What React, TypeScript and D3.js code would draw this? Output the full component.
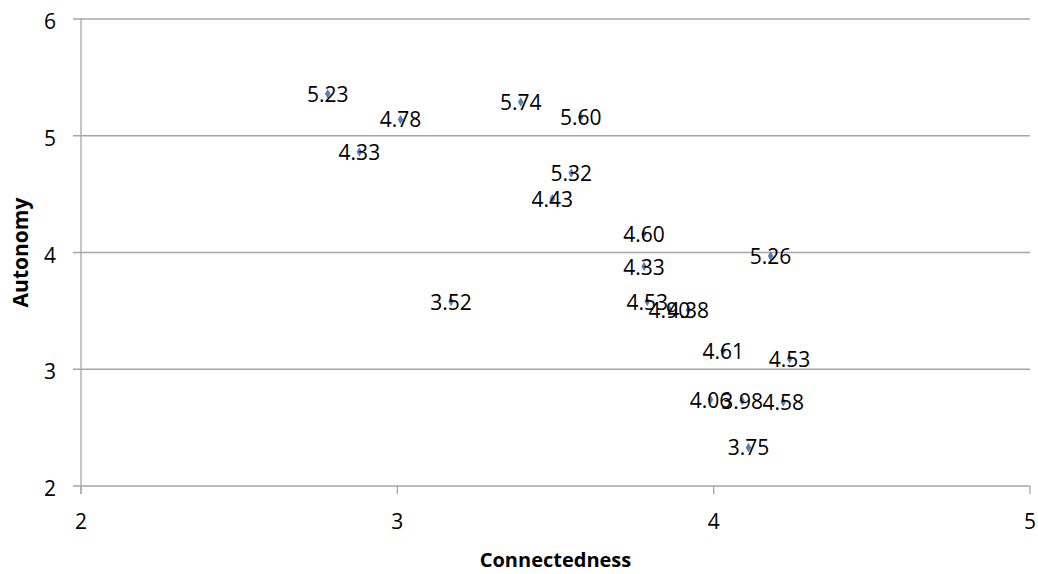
import React from "react";
import * as d3 from "d3";

const connectedness = [2.78, 3.01, 3.39, 3.58, 2.88, 3.55, 3.49, 3.78, 4.18, 3.78, 3.79, 3.86, 3.92, 3.17, 4.03, 4.24, 3.99, 4.09, 4.22, 4.11];
const autonomy = [5.36, 5.14, 5.29, 5.16, 4.86, 4.68, 4.46, 4.16, 3.97, 3.88, 3.58, 3.51, 3.51, 3.58, 3.16, 3.09, 2.74, 2.73, 2.72, 2.33];
const pointLabels = ["5.23", "4.78", "5.74", "5.60", "4.33", "5.32", "4.43", "4.60", "5.26", "4.33", "4.53", "4.90", "4.38", "3.52", "4.61", "4.53", "4.06", "3.98", "4.58", "3.75"];
const xTicks = [2, 3, 4, 5];
const yTicks = [2, 3, 4, 5, 6];

const W = 1038;
const H = 574;
const left = 81;
const right = 1030;
const top = 19;
const bottom = 486;
const axisColor = "#a6a6a6";
const font = "'Open Sans', 'Liberation Sans', Arial, sans-serif";

export default function App() {
  const x = d3.scaleLinear().domain([2, 5]).range([left, right]);
  const y = d3.scaleLinear().domain([2, 6]).range([bottom, top]);
  const diamond = d3.symbol().type(d3.symbolDiamond).size(26)() as string;

  return (
    <svg width={W} height={H} style={{ position: "absolute", left: 0, top: 0, background: "#fff" }}>
      {yTicks.map((t) => (
        <line key={"g" + t} x1={left - 8} x2={right} y1={y(t)} y2={y(t)} stroke={axisColor} strokeWidth={1.3} />
      ))}
      <line x1={left} x2={left} y1={top} y2={bottom + 8} stroke={axisColor} strokeWidth={1.3} />
      {xTicks.map((t) => (
        <line key={"xt" + t} x1={x(t)} x2={x(t)} y1={bottom} y2={bottom + 8} stroke={axisColor} strokeWidth={1.3} />
      ))}
      {yTicks.map((t) => (
        <text key={"yl" + t} x={56} y={y(t) + 10} textAnchor="end" fontFamily={font} fontSize={21} fill="#000">
          {t}
        </text>
      ))}
      {xTicks.map((t) => (
        <text key={"xl" + t} x={x(t)} y={529} textAnchor="middle" fontFamily={font} fontSize={21} fill="#000">
          {t}
        </text>
      ))}
      {connectedness.map((c, i) => (
        <path key={"m" + i} d={diamond} transform={`translate(${x(c)},${y(autonomy[i])})`} fill="#4f81bd" />
      ))}
      {connectedness.map((c, i) => (
        <text key={"l" + i} x={x(c)} y={y(autonomy[i]) + 8} textAnchor="middle" fontFamily={font} fontSize={21} fill="#000">
          {pointLabels[i]}
        </text>
      ))}
      <text x={(left + right) / 2} y={567} textAnchor="middle" fontFamily={font} fontSize={20} fontWeight="bold" fill="#000">
        Connectedness
      </text>
      <text
        transform={`translate(28,${(top + bottom) / 2}) rotate(-90)`}
        textAnchor="middle"
        fontFamily={font}
        fontSize={21}
        fontWeight="bold"
        fill="#000"
      >
        Autonomy
      </text>
    </svg>
  );
}
